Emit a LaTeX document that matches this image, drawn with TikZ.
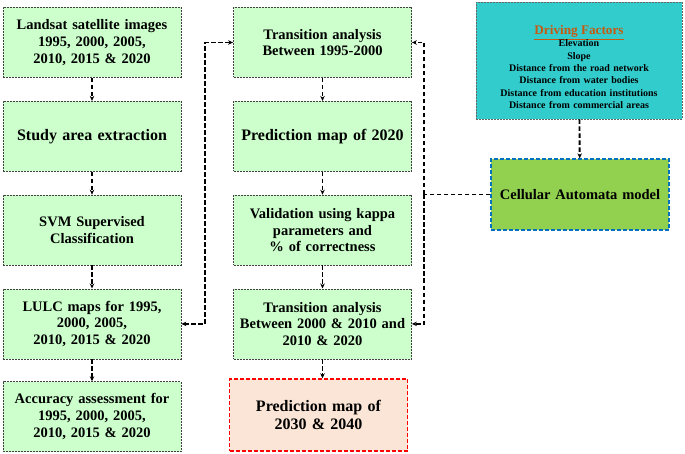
\documentclass[tikz,border=0pt]{standalone}
\usepackage{fontspec}
\setmainfont{Liberation Serif}
\usetikzlibrary{positioning,arrows.meta,calc}
\definecolor{boxgreen}{RGB}{204,255,204}
\definecolor{factorcyan}{RGB}{51,204,204}
\definecolor{cagreen}{RGB}{146,208,80}
\definecolor{cablue}{RGB}{0,112,192}
\definecolor{predpeach}{RGB}{251,229,214}
\definecolor{predred}{RGB}{255,0,0}
\definecolor{factororange}{RGB}{197,90,17}

\begin{document}
\begin{tikzpicture}[x=1pt, y=1pt, node distance=23pt,
        block/.style={rectangle, draw=black!75, dash pattern=on 2pt off 1pt, line width=0.8pt, fill=boxgreen, text width=172pt, inner xsep=3pt, align=center, minimum height=70pt, font=\fontsize{14.5}{16.7}\selectfont\bfseries},
        bigtext/.style={font=\fontsize{16}{18.5}\selectfont\bfseries},
        line/.style={line width=1.9pt, dash pattern=on 4.5pt off 2.5pt},
        arrow/.style={line, -{Stealth[length=5pt,width=4.5pt]}},
        twoway/.style={line, {Stealth[length=5pt,width=4.5pt]}-{Stealth[length=5pt,width=4.5pt]}}
    ]
        \useasboundingbox (0,0) rectangle (685,-454);

        % left column
        \node[block] (landsat) at (92,-42.5) {Landsat satellite images\\1995, 2000, 2005,\\2010, 2015 \& 2020};
        \node[block, bigtext, below=of landsat] (study) {Study area extraction};
        \node[block, below=of study] (svm) {SVM Supervised\\Classification};
        \node[block, below=of svm] (lulc) {LULC maps for 1995,\\2000, 2005,\\2010, 2015 \& 2020};
        \node[block, below=22pt of lulc] (accuracy) {Accuracy assessment for\\1995, 2000, 2005,\\2010, 2015 \& 2020};

        % middle column
        \node[block] (trans1) at (322.5,-42.5) {Transition analysis\\Between 1995-2000};
        \node[block, bigtext, below=of trans1] (pred2020) {Prediction map of 2020};
        \node[block, below=of pred2020] (kappa) {Validation using kappa\\parameters and\\\% of correctness};
        \node[block, below=of kappa] (trans2) {Transition analysis\\Between 2000 \& 2010 and\\2010 \& 2020};
        \node[block, bigtext, below=19pt of trans2, xshift=-4pt, fill=predpeach, draw=predred, line width=1.3pt, dash pattern=on 4pt off 2pt, minimum height=72pt] (predfuture) {Prediction map of\\2030 \& 2040};

        % right side
        \node[rectangle, draw=black!60, dash pattern=on 2pt off 1pt, line width=0.8pt, fill=factorcyan, text width=200pt, inner xsep=3pt, minimum height=117pt, align=center, font=\fontsize{10}{12.3}\selectfont\bfseries] (factors) at (579,-60.5)
            {\rule{0pt}{22pt}{\fontsize{13.2}{15}\selectfont\color{factororange}\underline{Driving Factors}}\\Elevation\\Slope\\Distance from the road network\\Distance from water bodies\\Distance from education institutions\\Distance from commercial areas};
        \node[block, fill=cagreen, draw=cablue, line width=1.3pt, dash pattern=on 4pt off 2pt, minimum height=71pt] (ca) at (580,-194.5) {Cellular Automata model};

        \coordinate (lbend) at ($(lulc.east)+(24,0)$);
        \coordinate (rbend) at ($(ca.west)+(-66,0)$);

        \draw[arrow] (landsat) -- (study);
        \draw[arrow] (study) -- (svm);
        \draw[arrow] (svm) -- (lulc);
        \draw[arrow] (lulc) -- (accuracy);
        \draw[arrow] (trans1) -- (pred2020);
        \draw[arrow] (pred2020) -- (kappa);
        \draw[arrow] (kappa) -- (trans2);
        \draw[arrow] (trans2.south) -- (trans2.south |- predfuture.north);
        \draw[arrow] (factors) -- (ca);
        \draw[twoway] (lulc.east) -- (lbend) |- (trans1.west);
        \draw[line] (ca.west) -- (rbend);
        \draw[arrow] (rbend) |- (trans1.east);
        \draw[arrow] (rbend) |- (trans2.east);
    \end{tikzpicture}
\end{document}
